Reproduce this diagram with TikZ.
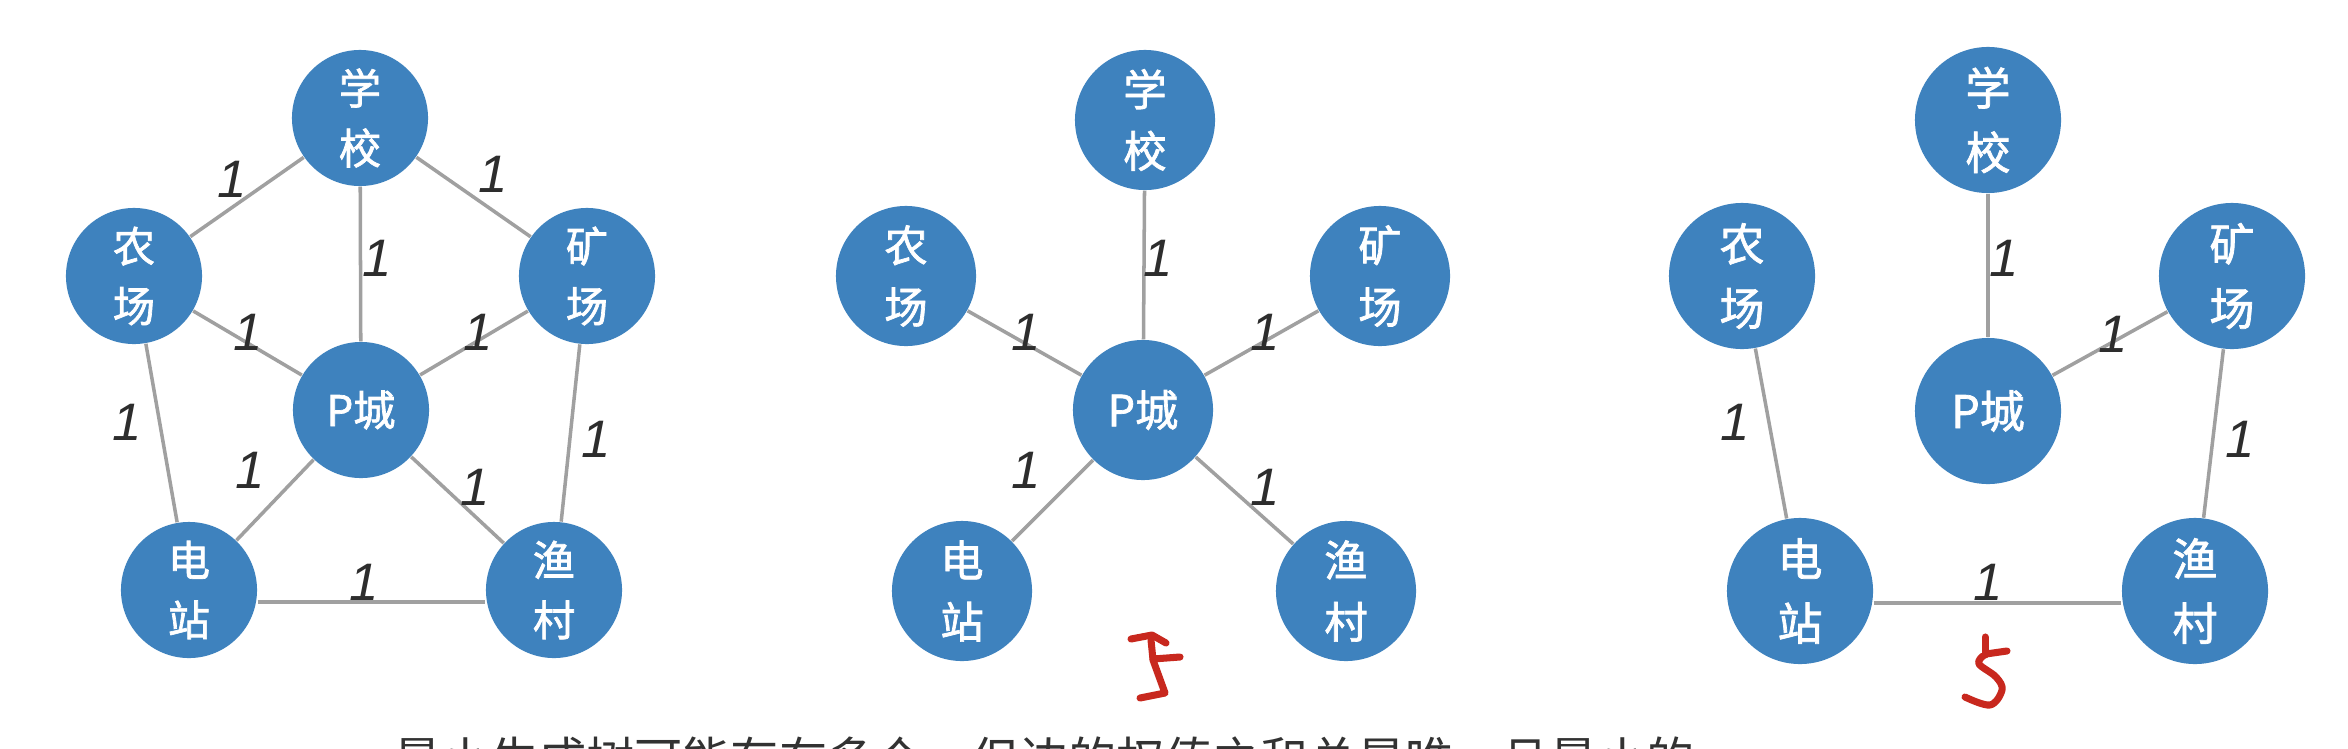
\documentclass[tikz,border=0pt]{standalone}
\usepackage{fontspec}
\setmainfont{Liberation Sans}
\newfontfamily\cjk{Noto Sans CJK SC}
\newfontfamily\cjkb{Noto Sans CJK SC}[AutoFakeBold=1.6]
\definecolor{nodeblue}{RGB}{62,130,190}
\definecolor{edgegray}{RGB}{160,160,160}
\definecolor{lblgray}{RGB}{45,45,45}
\definecolor{markred}{RGB}{200,40,30}
\definecolor{textgray}{RGB}{50,50,50}
\tikzset{
  city/.style={circle, fill=nodeblue, draw=none, text=white, inner sep=0pt, align=center},
  cityA/.style={city, minimum size=1.36cm, font=\cjkb\bfseries\fontsize{12}{17}\selectfont},
  cityB/.style={city, minimum size=1.40cm, font=\cjkb\bfseries\fontsize{12.3}{17.5}\selectfont},
  cityC/.style={city, minimum size=1.46cm, font=\cjkb\bfseries\fontsize{12.8}{18.3}\selectfont},
  link/.style={draw=edgegray, line width=1pt},
  wlbl/.style={font=\fontsize{15}{16}\selectfont\itshape, text=lblgray, inner sep=0pt},
  redmark/.style={draw=markred, line width=2pt, line cap=round, line join=round},
  caption/.style={font=\cjk\fontsize{13.7}{16}\selectfont, text=textgray, inner sep=0pt, anchor=base west}
}
\begin{document}
\begin{tikzpicture}[x=0.01cm, y=-0.01cm]
\useasboundingbox (0,0) rectangle (2348,748);
\clip (0,0) rectangle (2348,748);
\fill[white] (0,0) rectangle (2348,748);

% ---------- graph 1 ----------
\node[cityA] (a1) at (360,118) {学\\校};
\node[cityA] (a2) at (134,276) {农\\场};
\node[cityA] (a3) at (587,276) {矿\\场};
\node[cityA] (a4) at (361,410) {P城};
\node[cityA] (a5) at (189,590) {电\\站};
\node[cityA] (a6) at (554,590) {渔\\村};
\draw[link] (a1) -- (a2);
\draw[link] (a1) -- (a3);
\draw[link] (a1) -- (a4);
\draw[link] (a2) -- (a4);
\draw[link] (a3) -- (a4);
\draw[link] (a2) -- (a5);
\draw[link] (a3) -- (a6);
\draw[link] (a5) -- (a4);
\draw[link] (a6) -- (a4);
\draw[link] ([yshift=-0.12cm]a5.east) -- ([yshift=-0.12cm]a6.west);
\node[wlbl] (l1) at (232,179) {1};
\node[wlbl] (l2) at (493,174) {1};
\node[wlbl] (l3) at (377,258) {1};
\node[wlbl] (l4) at (248,332) {1};
\node[wlbl] (l5) at (478,332) {1};
\node[wlbl] (l6) at (127,422) {1};
\node[wlbl] (l7) at (596,439) {1};
\node[wlbl] (l8) at (250,470) {1};
\node[wlbl] (l9) at (475,487) {1};
\node[wlbl] (l10) at (364,582) {1};

% ---------- graph 2 ----------
\node[cityB] (b1) at (1145,120) {学\\校};
\node[cityB] (b2) at (906,276) {农\\场};
\node[cityB] (b3) at (1380,276) {矿\\场};
\node[cityB] (b4) at (1143,410) {P城};
\node[cityB] (b5) at (962,591) {电\\站};
\node[cityB] (b6) at (1346,591) {渔\\村};
\draw[link] (b1) -- (b4);
\draw[link] (b2) -- (b4);
\draw[link] (b3) -- (b4);
\draw[link] (b5) -- (b4);
\draw[link] (b6) -- (b4);
\node[wlbl] (m1) at (1158,258) {1};
\node[wlbl] (m2) at (1026,332) {1};
\node[wlbl] (m3) at (1265,332) {1};
\node[wlbl] (m4) at (1026,470) {1};
\node[wlbl] (m5) at (1265,487) {1};
\draw[redmark] (1131,639) -- (1152,635) -- (1166,643);
\draw[redmark] (1151,640) -- (1153,660) -- (1165,693) -- (1140,698);
\draw[redmark] (1153,659) -- (1180,657);

% ---------- graph 3 ----------
\node[cityC] (c1) at (1988,120) {学\\校};
\node[cityC] (c2) at (1742,276) {农\\场};
\node[cityC] (c3) at (2232,276) {矿\\场};
\node[cityC] (c4) at (1988,411) {P城};
\node[cityC] (c5) at (1800,591) {电\\站};
\node[cityC] (c6) at (2195,591) {渔\\村};
\draw[link] (c1) -- (c4);
\draw[link] (c3) -- (c4);
\draw[link] (c2) -- (c5);
\draw[link] (c3) -- (c6);
\draw[link] ([yshift=-0.12cm]c5.east) -- ([yshift=-0.12cm]c6.west);
\node[wlbl] (n1) at (2004,258) {1};
\node[wlbl] (n2) at (2113,334) {1};
\node[wlbl] (n3) at (1735,422) {1};
\node[wlbl] (n4) at (2240,439) {1};
\node[wlbl] (n5) at (1988,582) {1};
\draw[redmark] (1985,637) -- (1985,655);
\draw[redmark] (1986,654) -- (2007,651);
\draw[redmark] plot[smooth, tension=0.6] coordinates {(1983,656) (1979,664) (1996,677) (2002,690) (1990,705) (1965,697)};

% ---------- caption (cut off at the bottom, as in the reference) ----------
\node[caption] (cap) at (393,777) {最小生成树可能存在多个，但边的权值之和总是唯一且最小的};
\end{tikzpicture}
\end{document}
